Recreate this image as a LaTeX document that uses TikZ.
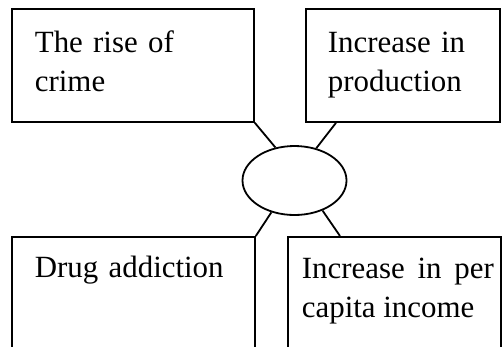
\documentclass[tikz,border=0pt]{standalone}
\usepackage{fontspec}
\setmainfont{Liberation Serif}
\usetikzlibrary{shapes.geometric}

\begin{document}
\begin{tikzpicture}[x=1bp, y=-1bp, line width=1.8bp,
  txtbox/.style={draw=black, anchor=north west, inner sep=0pt},
  hub/.style={draw=black, ellipse, minimum width=104bp, minimum height=69bp, inner sep=0pt},
  lbl/.style={anchor=base west, inner sep=0pt, text width=200bp, align=left, font=\fontsize{31}{40}\selectfont}
]
\useasboundingbox (0,0) rectangle (502,346);
\clip (0,0) rectangle (502,346);

% Top boxes
\node[txtbox, minimum width=242bp, minimum height=113bp] (crime) at (11,8) {};
\node[lbl] (crimetxt) at ([xshift=23bp, yshift=-44bp]crime.north west) {The rise of\\crime};

\node[txtbox, minimum width=194bp, minimum height=113bp] (prod) at (305,8) {};
\node[lbl, text width=165bp] (prodtxt) at ([xshift=22bp, yshift=-44bp]prod.north west) {Increase in\\production};

% Bottom boxes (run off the page)
\node[txtbox, minimum width=243bp, minimum height=130bp] (drug) at (11,236) {};
\node[lbl] (drugtxt) at ([xshift=23bp, yshift=-41bp]drug.north west) {Drug addiction};

\node[txtbox, minimum width=213bp, minimum height=130bp] (income) at (287,236) {};
\node[lbl, text width=192bp, align=justify] (incometxt) at ([xshift=14bp, yshift=-42bp]income.north west) {Increase in per capita income};

% Centre
\node[hub] (core) at (294.5,180.5) {};

% Connectors
\draw (crime.south east) -- (core.120);
\draw ([xshift=31bp]prod.south west) -- (core.56);
\draw (drug.north east) -- (core.234);
\draw ([xshift=53bp]income.north west) -- (core.313);
\end{tikzpicture}
\end{document}
